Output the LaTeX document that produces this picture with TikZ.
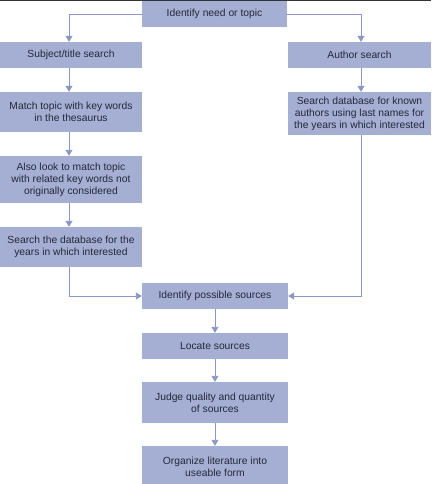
\documentclass[tikz,border=0pt]{standalone}
\usepackage{fontspec}
\setmainfont{Liberation Sans}
\usetikzlibrary{arrows.meta}
\definecolor{boxfill}{HTML}{A4AFD3}
\definecolor{linecol}{HTML}{8A96C6}
\definecolor{txtcol}{HTML}{26283A}
\tikzset{
    stepbox/.style={
        fill=boxfill,      % box colour
        inner sep=0pt,
        align=center,
        text=txtcol,
        font=\fontsize{10.3}{12}\selectfont
    },
    flow/.style={
        draw=linecol,
        line width=0.9pt,
        -{Triangle[length=6pt,width=7pt,fill=linecol]}
    }
}
\begin{document}
\begin{tikzpicture}[x=1pt, y=-1pt]

\useasboundingbox (0,0) rectangle (431,484);
\def\lx{71}
\def\rx{359.5}
\def\cx{215}

% boxes
\node[stepbox, minimum width=145, minimum height=26] (need) at (214.5,14) {Identify need or topic};
\node[stepbox, minimum width=142, minimum height=26] (subj) at (\lx,55) {Subject/title search};
\node[stepbox, minimum width=143, minimum height=26] (auth) at (\rx,55) {Author search};
\node[stepbox, minimum width=142, minimum height=40] (match) at (\lx,112) {Match topic with key words\\in the thesaurus};
\node[stepbox, minimum width=143, minimum height=43] (known) at (\rx,113.5) {Search database for known\\authors using last names for\\the years in which interested};
\node[stepbox, minimum width=142, minimum height=47] (also) at (\lx,179.5) {Also look to match topic\\with related key words not\\originally considered};
\node[stepbox, minimum width=142, minimum height=40] (years) at (\lx,247) {Search the database for the\\years in which interested};
\node[stepbox, minimum width=146, minimum height=26] (poss) at (\cx,296) {Identify possible sources};
\node[stepbox, minimum width=146, minimum height=26] (loc) at (\cx,346) {Locate sources};
\node[stepbox, minimum width=146, minimum height=41] (judge) at (\cx,402.5) {Judge quality and quantity\\of sources};
\node[stepbox, minimum width=146, minimum height=42] (org) at (\cx,467) {Organize literature into\\useable form};

% arrows
\draw[flow] (need.west) -| ([xshift=-2]subj.north);
\draw[flow] (need.east) -| ([xshift=1.5]auth.north);
\draw[flow] ([xshift=-2]subj.south) -- ([xshift=-2]match.north);
\draw[flow] ([xshift=-2]match.south) -- ([xshift=-2]also.north);
\draw[flow] ([xshift=-2]also.south) -- ([xshift=-2]years.north);
\draw[flow] ([xshift=1.5]auth.south) -- ([xshift=1.5]known.north);
\draw[flow] ([xshift=-2]years.south) |- (poss.west);
\draw[flow] ([xshift=1.5]known.south) |- (poss.east);
\draw[flow] (poss) -- (loc);
\draw[flow] (loc) -- (judge);
\draw[flow] (judge) -- (org);

\draw[black!80, line width=1.5] (0,0.75) -- (431,0.75);

\end{tikzpicture}
\end{document}
